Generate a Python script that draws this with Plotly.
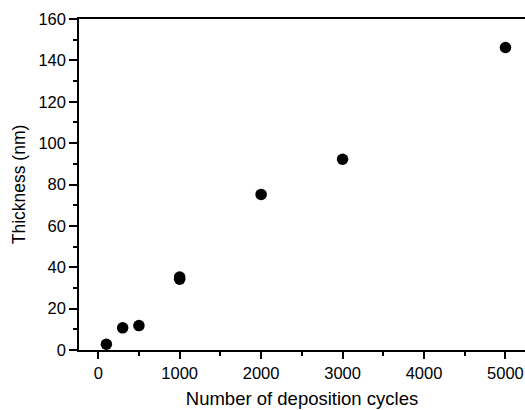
import plotly.graph_objects as go

cycles = [100, 300, 500, 1000, 1000, 2000, 3000, 5000]
thickness = [2.8, 10.7, 11.8, 34.2, 35.3, 75.2, 92.2, 146.2]

x_ticks = [0, 1000, 2000, 3000, 4000, 5000]
y_ticks = [0, 20, 40, 60, 80, 100, 120, 140, 160]

fig = go.Figure()
fig.add_trace(go.Scatter(
    x=cycles, y=thickness, mode="markers",
    marker=dict(size=11.5, color="black", line=dict(width=0)),
    showlegend=False,
))

font = dict(family="Liberation Sans, Arial, sans-serif", color="black")

fig.update_layout(
    width=525, height=410,
    margin=dict(l=79, r=0, t=19, b=60),
    paper_bgcolor="white", plot_bgcolor="white",
    font=dict(size=16, **font),
    xaxis=dict(
        range=[-236, 5240],
        tickvals=x_ticks, ticktext=[str(v) for v in x_ticks],
        ticks="outside", ticklen=7, tickwidth=1.5, tickcolor="black",
        minor=dict(dtick=500, tick0=0, ticks="outside", ticklen=4, tickwidth=1.5, tickcolor="black"),
        showline=True, linecolor="black", linewidth=1.5, mirror=True,
        showgrid=False, zeroline=False,
        title=dict(text="Number of deposition cycles", font=dict(size=18.5, **font), standoff=12),
        tickfont=dict(size=16.5, **font),
    ),
    yaxis=dict(
        range=[0, 160],
        tickvals=y_ticks, ticktext=[str(v) for v in y_ticks],
        ticks="outside", ticklen=8, tickwidth=1.5, tickcolor="black",
        minor=dict(dtick=10, tick0=0, ticks="outside", ticklen=4, tickwidth=1.5, tickcolor="black"),
        showline=True, linecolor="black", linewidth=1.5,
        showgrid=False, zeroline=False,
        title=dict(text="Thickness (nm)", font=dict(size=17.5, **font), standoff=8),
        tickfont=dict(size=16.5, **font),
    ),
)

fig.write_html("out.html")
